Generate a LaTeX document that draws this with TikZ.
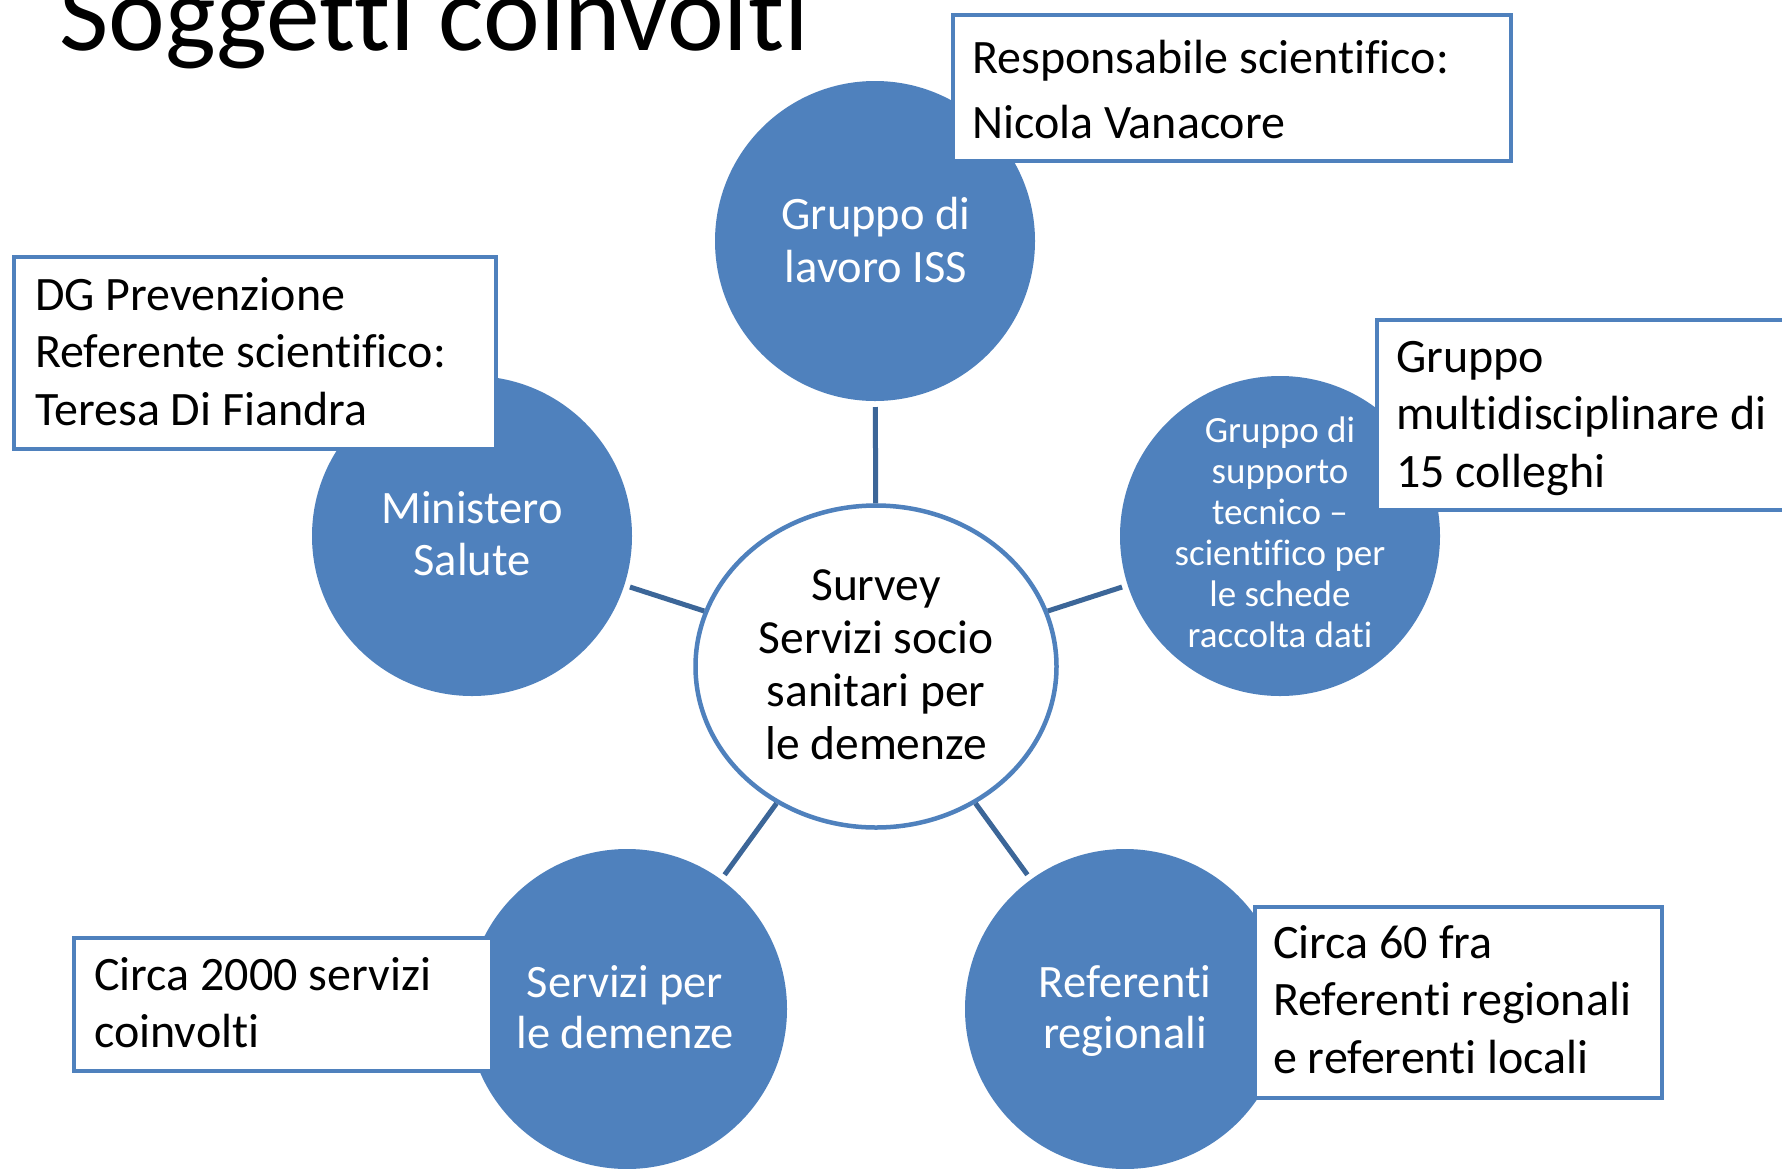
\documentclass[tikz,border=0pt]{standalone}
\usepackage{fontspec}
\setmainfont[Ligatures=TeX, RawFeature={-liga;-clig;-dlig}]{Carlito}
\usetikzlibrary{shapes.geometric}
\definecolor{accent}{RGB}{79,129,189}
\definecolor{connc}{RGB}{60,102,152}
\tikzset{
  sat/.style={circle, fill=accent, draw=none, minimum size=320pt, inner sep=0pt, outer sep=0pt},
  hub/.style={ellipse, fill=white, draw=accent, line width=4.5pt, minimum width=361pt, minimum height=322pt, inner sep=0pt},
  conn/.style={draw=connc, line width=5pt, shorten >=6pt},
  infobox/.style={draw=accent, fill=white, line width=4pt},
  boxtxt/.style={inner sep=0pt, anchor=north west, align=left, text=black},
  sattxt/.style={inner sep=0pt, anchor=north, align=center, text=white},
}
\begin{document}
\begin{tikzpicture}[x=1pt, y=-1pt]
\useasboundingbox (0,0) rectangle (1782,1168);
\clip (0,0) rectangle (1782,1168);
\fill[white] (0,0) rectangle (1782,1168);

% title
\node[inner sep=0pt, anchor=base west, font=\fontsize{107.5}{120}\selectfont] (title) at (59,50) {Soggetti coinvolti};

% satellites
\node[sat] (iss) at (875,241) {};
\node[sat] (min) at (472,536) {};
\node[sat] (sup) at (1280,536) {};
\node[sat] (ser) at (627,1009) {};
\node[sat] (ref) at (1125,1009) {};

% hub
\node[hub] (hub) at (876,666.5) {};

% connectors
\draw[conn] (hub) -- (iss);
\draw[conn] (hub) -- (min);
\draw[conn] (hub) -- (sup);
\draw[conn] (hub) -- (ser);
\draw[conn] (hub) -- (ref);

% hub text
\node[sattxt, text=black, font=\fontsize{47.5}{53}\selectfont] (hubt) at (876,558) {\rule{0pt}{42pt}Survey\\Servizi socio\\sanitari per\\le demenze};

% satellite texts
\node[sattxt, font=\fontsize{46.5}{53}\selectfont] (isst) at (876,187) {\rule{0pt}{42pt}Gruppo di\\lavoro ISS};
\node[sattxt, font=\fontsize{46.5}{52}\selectfont] (mint) at (472,481) {\rule{0pt}{42pt}Ministero\\Salute};
\node[sattxt, font=\fontsize{37}{41}\selectfont] (supt) at (1280,408) {\rule{0pt}{34pt}Gruppo di\\supporto\\tecnico –\\scientifico per\\le schede\\raccolta dati};
\node[sattxt, font=\fontsize{46.5}{51}\selectfont] (sert) at (625,955) {\rule{0pt}{42pt}Servizi per\\le demenze};
\node[sattxt, font=\fontsize{46.5}{51}\selectfont] (reft) at (1125,955) {\rule{0pt}{42pt}Referenti\\regionali};

% info boxes
\path[infobox] (953,15) rectangle (1511,161);
\node[boxtxt, font=\fontsize{48}{65}\selectfont] (resp) at (972,31) {\rule{0pt}{42pt}Responsabile scientifico:\\Nicola Vanacore};

\path[infobox] (14,257) rectangle (496,449);
\node[boxtxt, font=\fontsize{48}{57.5}\selectfont] (dg) at (35,268) {\rule{0pt}{42pt}DG Prevenzione\\Referente scientifico:\\Teresa Di Fiandra};

\path[infobox] (1377,320) rectangle (1800,510);
\node[boxtxt, font=\fontsize{48}{57.5}\selectfont] (multi) at (1396,330) {\rule{0pt}{42pt}Gruppo\\multidisciplinare di\\15 colleghi};

\path[infobox] (1255,907) rectangle (1662,1098);
\node[boxtxt, font=\fontsize{48}{57.5}\selectfont] (c60) at (1273,916) {\rule{0pt}{42pt}Circa 60 fra\\Referenti regionali\\e referenti locali};

\path[infobox] (74,938) rectangle (492,1071);
\node[boxtxt, font=\fontsize{48}{57}\selectfont] (c2000) at (94,948) {\rule{0pt}{42pt}Circa 2000 servizi\\coinvolti};
\end{tikzpicture}
\end{document}
